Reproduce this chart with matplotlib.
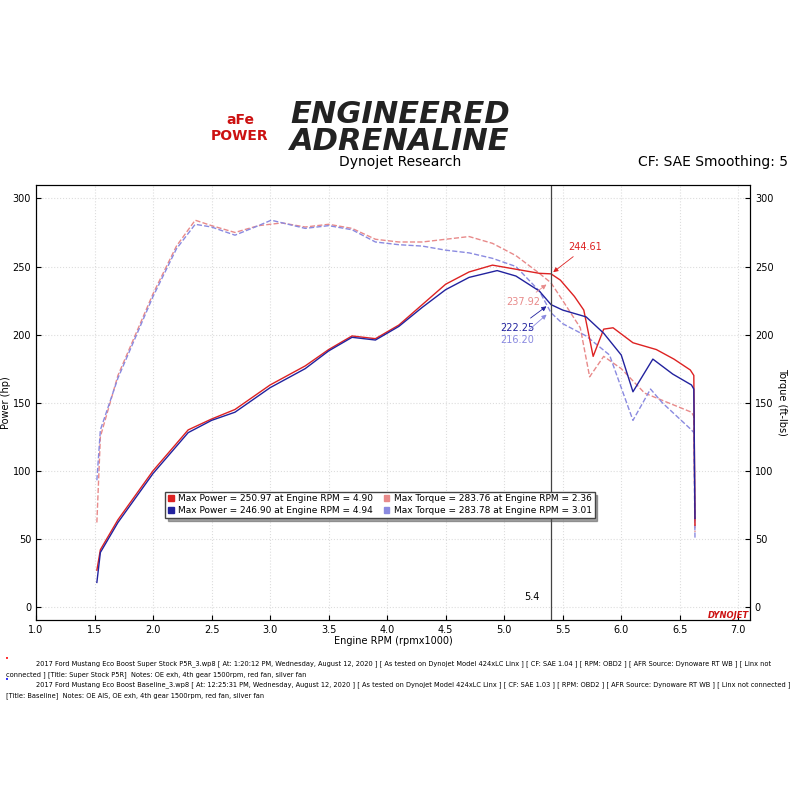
import matplotlib
matplotlib.use("Agg")
import matplotlib.pyplot as plt
from matplotlib.patches import Patch

rpm_p1 = [1.52,1.55,1.7,2.0,2.3,2.5,2.7,3.0,3.3,3.5,3.7,3.9,4.1,4.3,4.5,4.7,4.9,5.1,5.3,5.4,5.48,5.6,5.68,5.76,5.85,5.93,6.1,6.3,6.45,6.59,6.62,6.63]
pow1 = [27,42,64,100,130,138,145,163,177,189,199,197,207,222,237,246,251,248,245,244.6,240,228,218,184,204,205,194,189,182,174,170,60]
rpm_p2 = [1.52,1.55,1.7,2.0,2.3,2.5,2.7,3.0,3.3,3.5,3.7,3.9,4.1,4.3,4.5,4.7,4.94,5.1,5.3,5.4,5.5,5.7,5.85,6.0,6.1,6.27,6.44,6.6,6.62,6.63]
pow2 = [18,40,62,98,128,137,143,161,175,188,198,196,206,220,233,242,247,243,232,222,218,213,201,185,158,182,171,163,160,65]
rpm_t1 = [1.52,1.55,1.7,2.0,2.2,2.36,2.5,2.7,2.9,3.1,3.3,3.5,3.7,3.9,4.1,4.3,4.5,4.7,4.9,5.1,5.3,5.4,5.5,5.65,5.73,5.85,6.0,6.2,6.4,6.6,6.62,6.63]
tq1 = [62,125,170,230,265,284,280,275,280,282,279,281,278,270,268,268,270,272,267,258,245,238,225,205,169,184,175,157,150,143,140,55]
rpm_t2 = [1.52,1.55,1.7,2.0,2.2,2.36,2.5,2.7,2.9,3.01,3.3,3.5,3.7,3.9,4.1,4.3,4.5,4.7,4.9,5.1,5.3,5.4,5.5,5.7,5.9,6.1,6.25,6.35,6.6,6.62,6.63]
tq2 = [93,130,168,228,263,281,279,273,280,284,278,280,277,268,266,265,262,260,256,250,232,216,208,199,185,137,160,150,130,128,50]

c_p1, c_p2, c_t1, c_t2 = "#dd2222", "#22229e", "#e88a8a", "#8a8ae0"

fig = plt.figure(figsize=(8, 8), dpi=100)
fig.text(0.5, 0.84, "ENGINEERED\nADRENALINE", ha="center", va="center", fontsize=22,
         fontweight="bold", style="italic", color="#222222", linespacing=0.9)
fig.text(0.30, 0.84, "aFe\nPOWER", ha="center", va="center", fontsize=10, fontweight="bold", color="#cc1111")
fig.text(0.50, 0.797, "Dynojet Research", ha="center", va="center", fontsize=10)
fig.text(0.985, 0.797, "CF: SAE Smoothing: 5", ha="right", va="center", fontsize=10)

ax = fig.add_axes([0.045, 0.225, 0.8925, 0.544])
ax.plot(rpm_t1, tq1, color=c_t1, ls="--", lw=1)
ax.plot(rpm_t2, tq2, color=c_t2, ls="--", lw=1)
ax.plot(rpm_p1, pow1, color=c_p1, lw=1)
ax.plot(rpm_p2, pow2, color=c_p2, lw=1)
ax.set_xlim(1.0, 7.1)
ax.set_ylim(-9.6, 310)
ax.set_xticks([1.0,1.5,2.0,2.5,3.0,3.5,4.0,4.5,5.0,5.5,6.0,6.5,7.0])
ax.set_yticks([0,50,100,150,200,250,300])
ax.tick_params(labelsize=7, direction="in")
ax.grid(color="#dddddd", ls=":", lw=0.8)
ax.set_xlabel("Engine RPM (rpmx1000)", fontsize=7, labelpad=1)
ax.set_ylabel("Power (hp)", fontsize=7, labelpad=1)
ax2 = ax.twinx()
ax2.set_ylim(-9.6, 310)
ax2.set_yticks([0,50,100,150,200,250,300])
ax2.tick_params(labelsize=7, direction="in")
ax2.set_ylabel("Torque (ft-lbs)", fontsize=7, rotation=-90, labelpad=10)
ax.axvline(5.4, color="#444444", lw=0.9)
ax.text(5.3, 5, "5.4", fontsize=7, ha="right")
ax.annotate("244.61", xy=(5.4, 244.6), xytext=(5.55, 262), color=c_p1, fontsize=7,
            arrowprops=dict(arrowstyle="-|>", color=c_p1, lw=0.6))
ax.annotate("237.92", xy=(5.38, 238), xytext=(5.02, 222), color=c_t1, fontsize=7,
            arrowprops=dict(arrowstyle="-|>", color=c_t1, lw=0.6))
ax.annotate("222.25", xy=(5.38, 222), xytext=(4.97, 203), color=c_p2, fontsize=7,
            arrowprops=dict(arrowstyle="-|>", color=c_p2, lw=0.6))
ax.annotate("216.20", xy=(5.38, 216), xytext=(4.97, 194), color=c_t2, fontsize=7,
            arrowprops=dict(arrowstyle="-|>", color=c_t2, lw=0.6))

handles = [Patch(color=c_p1), Patch(color=c_p2), Patch(color=c_t1), Patch(color=c_t2)]
labels = ["Max Power = 250.97 at Engine RPM = 4.90", "Max Power = 246.90 at Engine RPM = 4.94",
          "Max Torque = 283.76 at Engine RPM = 2.36", "Max Torque = 283.78 at Engine RPM = 3.01"]
leg = ax.legend(handles, labels, ncol=2, fontsize=6.5, loc="upper left", bbox_to_anchor=(0.175, 0.305),
                frameon=True, fancybox=False, shadow=True, handlelength=0.6, handleheight=0.6,
                borderpad=0.3, columnspacing=1.2, handletextpad=0.5, labelspacing=0.3)
leg.get_frame().set_edgecolor("#444444")
fig.text(0.885, 0.225, "DYNOJET", fontsize=6, fontweight="bold", style="italic", color="#cc1111", va="bottom")

fs = 4.8
fig.text(0.006, 0.174, "•", color="red", fontsize=5)
fig.text(0.045, 0.168, "2017 Ford Mustang Eco Boost Super Stock P5R_3.wp8 [ At: 1:20:12 PM, Wednesday, August 12, 2020 ] [ As tested on Dynojet Model 424xLC Linx ] [ CF: SAE 1.04 ] [ RPM: OBD2 ] [ AFR Source: Dynoware RT WB ] [ Linx not", fontsize=fs)
fig.text(0.007, 0.155, "connected ] [Title: Super Stock P5R]  Notes: OE exh, 4th gear 1500rpm, red fan, silver fan", fontsize=fs)
fig.text(0.006, 0.148, "•", color="blue", fontsize=5)
fig.text(0.045, 0.142, "2017 Ford Mustang Eco Boost Baseline_3.wp8 [ At: 12:25:31 PM, Wednesday, August 12, 2020 ] [ As tested on Dynojet Model 424xLC Linx ] [ CF: SAE 1.03 ] [ RPM: OBD2 ] [ AFR Source: Dynoware RT WB ] [ Linx not connected ]", fontsize=fs)
fig.text(0.007, 0.129, "[Title: Baseline]  Notes: OE AIS, OE exh, 4th gear 1500rpm, red fan, silver fan", fontsize=fs)

fig.savefig("out.png", dpi=100)
